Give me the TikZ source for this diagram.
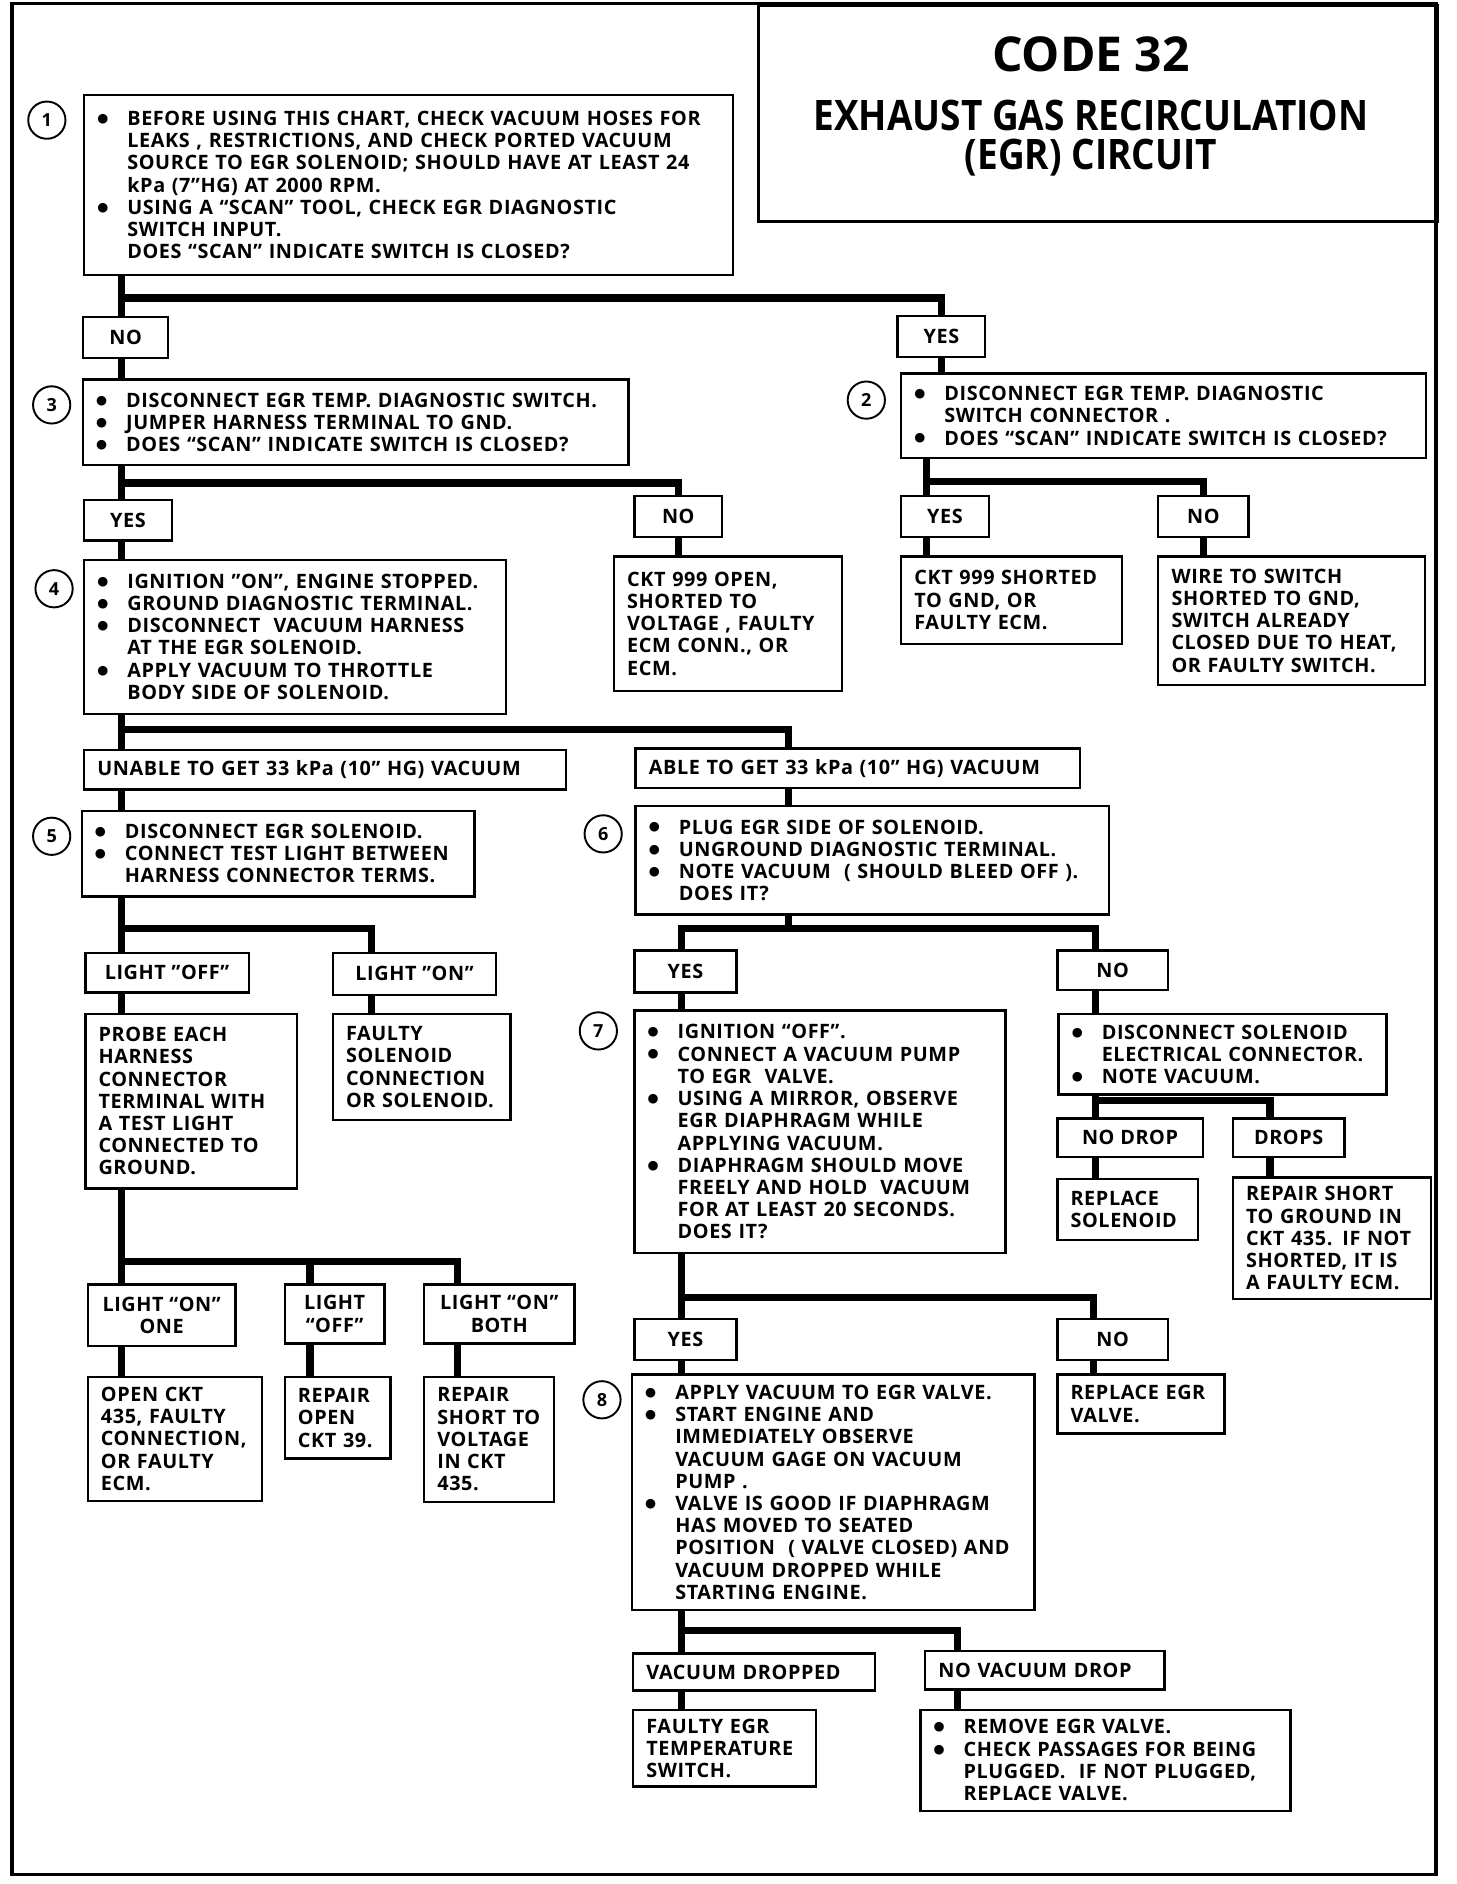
\documentclass[tikz,border=0pt]{standalone}
\usepackage{fontspec}
\setmainfont{Open Sans}[LetterSpace=3]
\newfontfamily\headfont{Open Sans}[FakeStretch=0.88]
\newfontfamily\codefont{Open Sans}
\newfontfamily\dotfont{DejaVu Sans}
\newcommand\bodyfont{\fontsize{16.5}{18.5}\selectfont\bfseries}
\newcommand\numfont{\fontsize{15}{15}\selectfont\bfseries}
\newcommand\bul{\makebox[25pt][l]{\raisebox{2.6pt}{\dotfont\fontsize{10.5}{10.5}\selectfont ●}}}
\newcommand\ind{\hspace*{25pt}}

\begin{document}
\begin{tikzpicture}[
		x=1pt, y=-1pt,
		box/.style={draw, line width=2pt, anchor=north west, align=left, inner xsep=11pt, inner ysep=0pt, font=\bodyfont},
		tag/.style={draw, line width=2pt, anchor=north west, align=center, inner sep=0pt, font=\bodyfont},
		wire/.style={line width=6pt},
		num/.style={draw, circle, line width=1.6pt, minimum size=31pt, inner sep=0pt, font=\numfont}
		]
		
		\useasboundingbox (0,0) rectangle (1212,1568);
		\draw[line width=3pt] (10,3) rectangle (1195,1560);
		
		% Title block
		\node[draw, line width=2.5pt, anchor=north west, minimum width=565pt, minimum height=180pt, inner sep=0pt] (titlebox) at (630,3) {};
		\node[font=\codefont\fontsize{40}{40}\selectfont\bfseries] (code) at (908,45) {CODE 32};
		\node[font=\headfont\fontsize{35}{32}\selectfont\bfseries, align=center] (name) at (908,115) {EXHAUST GAS RECIRCULATION\\(EGR) CIRCUIT};
		
		% Step 1
		\node[num] (n1) at (39,100) {1};
		\node[box, text width=518pt, minimum height=150pt] (b1) at (69,78) {
			\bul BEFORE USING THIS CHART, CHECK VACUUM HOSES FOR\\
			\ind LEAKS , RESTRICTIONS, AND CHECK PORTED VACUUM\\
			\ind SOURCE TO EGR SOLENOID; SHOULD HAVE AT LEAST 24\\
			\ind kPa (7”HG) AT 2000 RPM.\\
			\bul USING A “SCAN” TOOL, CHECK EGR DIAGNOSTIC\\
			\ind SWITCH INPUT.\\
			\ind DOES “SCAN” INDICATE SWITCH IS CLOSED?};
		\node[tag, minimum width=71pt, minimum height=34pt] (no1) at (68,263) {NO};
		\node[tag, minimum width=73pt, minimum height=34pt] (yes1) at (746,262) {YES};
		
		% Step 3 (left) and step 2 (right)
		\node[num] (n3) at (43,337) {3};
		\node[box, text width=432pt, minimum height=71pt] (b3) at (68,315) {
			\bul DISCONNECT EGR TEMP. DIAGNOSTIC SWITCH.\\
			\bul JUMPER HARNESS TERMINAL TO GND.\\
			\bul DOES “SCAN” INDICATE SWITCH IS CLOSED?};
		\node[num] (n2) at (721,333) {2};
		\node[box, text width=415pt, minimum height=70pt] (b2) at (749,310) {
			\bul DISCONNECT EGR TEMP. DIAGNOSTIC\\
			\ind SWITCH CONNECTOR .\\
			\bul DOES “SCAN” INDICATE SWITCH IS CLOSED?};
		\node[tag, minimum width=73pt, minimum height=34pt] (yes3) at (69,415) {YES};
		\node[tag, minimum width=73pt, minimum height=34pt] (no3) at (527,412) {NO};
		\node[tag, minimum width=73pt, minimum height=34pt] (yes2) at (749,412) {YES};
		\node[tag, minimum width=75pt, minimum height=34pt] (no2) at (963,412) {NO};
		
		\node[num] (n4) at (45,490) {4};
		\node[box, text width=329pt, minimum height=128pt] (b4) at (69,465) {
			\bul IGNITION "ON", ENGINE STOPPED.\\
			\bul GROUND DIAGNOSTIC TERMINAL.\\
			\bul DISCONNECT \ VACUUM HARNESS\\
			\ind AT THE EGR SOLENOID.\\
			\bul APPLY VACUUM TO THROTTLE\\
			\ind BODY SIDE OF SOLENOID.};
		\node[box, text width=168pt, minimum height=112pt] (r3no) at (510,462) {
			CKT 999 OPEN,\\ SHORTED TO\\ VOLTAGE , FAULTY\\ ECM CONN., OR\\ ECM.};
		\node[box, text width=162pt, minimum height=73pt] (r2yes) at (749,462) {
			CKT 999 SHORTED\\ TO GND, OR\\ FAULTY ECM.};
		\node[box, text width=200pt, minimum height=107pt] (r2no) at (963,462) {
			WIRE TO SWITCH\\ SHORTED TO GND,\\ SWITCH ALREADY\\ CLOSED DUE TO HEAT,\\ OR FAULTY SWITCH.};
		
		% Step 4 outcomes
		\node[box, text width=379pt, minimum height=33pt] (unable) at (69,623) {UNABLE TO GET 33 kPa (10” HG) VACUUM};
		\node[box, text width=348pt, minimum height=33pt] (able) at (528,622) {ABLE TO GET 33 kPa (10” HG) VACUUM};
		
		% Step 5
		\node[num] (n5) at (43,696) {5};
		\node[box, text width=305pt, minimum height=71pt] (b5) at (67,674) {
			\bul DISCONNECT EGR SOLENOID.\\
			\bul CONNECT TEST LIGHT BETWEEN\\
			\ind HARNESS CONNECTOR TERMS.};
		\node[tag, minimum width=136pt, minimum height=33pt] (loff) at (70,792) {LIGHT "OFF"};
		\node[tag, minimum width=136pt, minimum height=35pt] (lon) at (276,792) {LIGHT "ON"};
		\node[box, text width=154pt, minimum height=145pt] (probe) at (70,843) {
			PROBE EACH\\ HARNESS\\ CONNECTOR\\ TERMINAL WITH\\ A TEST LIGHT\\ CONNECTED TO\\ GROUND.};
		\node[box, text width=126pt, minimum height=88pt] (faulty) at (276,843) {
			FAULTY\\ SOLENOID\\ CONNECTION\\ OR SOLENOID.};
		\node[tag, minimum width=123pt, minimum height=51pt] (lon1) at (72,1068) {LIGHT “ON”\\ONE};
		\node[tag, minimum width=83pt, minimum height=49pt] (loff2) at (236,1068) {LIGHT\\“OFF”};
		\node[tag, minimum width=125pt, minimum height=49pt] (lonb) at (352,1068) {LIGHT “ON”\\BOTH};
		\node[box, text width=123pt, minimum height=103pt] (ropen) at (72,1145) {
			OPEN CKT\\ 435, FAULTY\\ CONNECTION,\\ OR FAULTY\\ ECM.};
		\node[box, text width=66pt, minimum height=68pt] (rrep) at (236,1145) {
			REPAIR\\ OPEN\\ CKT 39.};
		\node[box, text width=86pt, minimum height=104pt] (rshort) at (352,1145) {
			REPAIR\\ SHORT TO\\ VOLTAGE\\ IN CKT\\ 435.};
		
		% Step 6
		\node[num] (n6) at (502,694) {6};
		\node[box, text width=372pt, minimum height=90pt] (b6) at (528,670) {
			\bul PLUG EGR SIDE OF SOLENOID.\\
			\bul UNGROUND DIAGNOSTIC TERMINAL.\\
			\bul NOTE VACUUM \ ( SHOULD BLEED OFF ).\\
			\ind DOES IT?};
		\node[tag, minimum width=85pt, minimum height=35pt] (yes6) at (527,790) {YES};
		\node[tag, minimum width=92pt, minimum height=33pt] (no6) at (879,790) {NO};
		
		% Step 7
		\node[num] (n7) at (498,858) {7};
		\node[box, text width=287pt, minimum height=202pt] (b7) at (527,840) {
			\bul IGNITION “OFF”.\\
			\bul CONNECT A VACUUM PUMP\\
			\ind TO EGR \ VALVE.\\
			\bul USING A MIRROR, OBSERVE\\
			\ind EGR DIAPHRAGM WHILE\\
			\ind APPLYING VACUUM.\\
			\bul DIAPHRAGM SHOULD MOVE\\
			\ind FREELY AND HOLD \ VACUUM\\
			\ind FOR AT LEAST 20 SECONDS.\\
			\ind DOES IT?};
		\node[box, text width=251pt, minimum height=67pt] (nosol) at (880,843) {
			\bul DISCONNECT SOLENOID\\
			\ind ELECTRICAL CONNECTOR.\\
			\bul NOTE VACUUM.};
		\node[tag, minimum width=121pt, minimum height=32pt] (nodrop) at (879,930) {NO DROP};
		\node[tag, minimum width=93pt, minimum height=32pt] (drops) at (1025,930) {DROPS};
		\node[box, text width=95pt, minimum height=51pt] (repsol) at (879,980) {
			REPLACE\\ SOLENOID};
		\node[box, text width=143pt, minimum height=101pt] (repshort) at (1025,979) {
			REPAIR SHORT\\ TO GROUND IN\\ CKT 435. IF NOT\\ SHORTED, IT IS\\ A FAULTY ECM.};
		\node[tag, minimum width=85pt, minimum height=34pt] (yes7) at (527,1097) {YES};
		\node[tag, minimum width=92pt, minimum height=34pt] (no7) at (879,1097) {NO};
		
		% Step 8
		\node[num] (n8) at (501,1165) {8};
		\node[box, text width=313pt, minimum height=196pt] (b8) at (525,1143) {
			\bul APPLY VACUUM TO EGR VALVE.\\
			\bul START ENGINE AND\\
			\ind IMMEDIATELY OBSERVE\\
			\ind VACUUM GAGE ON VACUUM\\
			\ind PUMP .\\
			\bul VALVE IS GOOD IF DIAPHRAGM\\
			\ind HAS MOVED TO SEATED\\
			\ind POSITION \ ( VALVE CLOSED) AND\\
			\ind VACUUM DROPPED WHILE\\
			\ind STARTING ENGINE.};
		\node[box, text width=117pt, minimum height=49pt] (repegr) at (879,1143) {
			REPLACE EGR\\ VALVE.};
		\node[box, text width=179pt, minimum height=31pt] (vacdrop) at (526,1375) {VACUUM DROPPED};
		\node[box, text width=177pt, minimum height=32pt] (novac) at (769,1373) {NO VACUUM DROP};
		\node[box, text width=130pt, minimum height=64pt] (faultyegr) at (526,1422) {
			FAULTY EGR\\ TEMPERATURE\\ SWITCH.};
		\node[box, text width=286pt, minimum height=84pt] (remove) at (765,1422) {
			\bul REMOVE EGR VALVE.\\
			\bul CHECK PASSAGES FOR BEING\\
			\ind PLUGGED. \ IF NOT PLUGGED,\\
			\ind REPLACE VALVE.};
		
		% Branch points
		\coordinate (j1) at (101,248);
		\coordinate (j3) at (101,402);
		\coordinate (j2) at (771,401);
		\coordinate (j4) at (101,607);
		\coordinate (k4) at (656,607);
		\coordinate (j5) at (101,773);
		\coordinate (k5) at (309,773);
		\coordinate (j6) at (101,1050);
		\coordinate (k6) at (258,1050);
		\coordinate (m6) at (381,1050);
		\coordinate (j7) at (567,773);
		\coordinate (k7) at (912,773);
		\coordinate (j8) at (912,916);
		\coordinate (k8) at (1057,916);
		\coordinate (j9) at (567,1080);
		\coordinate (k9) at (910,1080);
		\coordinate (j10) at (567,1357);
		\coordinate (k10) at (797,1357);
		
		% Connectors
		\draw[wire] (b1.south -| j1) -- (no1.north -| j1);
		\draw[wire] (j1) -| (yes1.north);
		\draw[wire] (no1.south -| j1) -- (b3.north -| j1);
		\draw[wire] (yes1.south) -- (b2.north -| yes1.south);
		
		\draw[wire] (b3.south -| j3) -- (yes3.north -| j3);
		\draw[wire] (j3) -| (no3.north);
		\draw[wire] (yes3.south -| j3) -- (b4.north -| j3);
		\draw[wire] (no3.south) -- (r3no.north -| no3.south);
		
		\draw[wire] (b2.south -| j2) -- (yes2.north -| j2);
		\draw[wire] (j2) -| (no2.north);
		\draw[wire] (yes2.south -| j2) -- (r2yes.north -| j2);
		\draw[wire] (no2.south) -- (r2no.north -| no2.south);
		
		\draw[wire] (b4.south -| j4) -- (unable.north -| j4);
		\draw[wire] (j4) -| (able.north -| k4);
		\draw[wire] (unable.south -| j4) -- (b5.north -| j4);
		\draw[wire] (able.south -| k4) -- (b6.north -| k4);
		
		\draw[wire] (b5.south -| j5) -- (loff.north -| j5);
		\draw[wire] (j5) -| (lon.north -| k5);
		\draw[wire] (loff.south -| j5) -- (probe.north -| j5);
		\draw[wire] (lon.south -| k5) -- (faulty.north -| k5);
		
		\draw[wire] (probe.south -| j6) -- (lon1.north -| j6);
		\draw[wire] (j6) -| (lonb.north -| m6);
		\draw[wire] (k6) -- (loff2.north -| k6);
		\draw[wire] (lon1.south -| j6) -- (ropen.north -| j6);
		\draw[wire] (loff2.south -| k6) -- (rrep.north -| k6);
		\draw[wire] (lonb.south -| m6) -- (rshort.north -| m6);
		
		\draw[wire] (b6.south -| k4) -- (j7 -| k4);
		\draw[wire] (yes6.north -| j7) -- (j7) -- (k7) -- (no6.north -| k7);
		\draw[wire] (yes6.south -| j7) -- (b7.north -| j7);
		\draw[wire] (no6.south -| k7) -- (nosol.north -| k7);
		
		\draw[wire] (nosol.south -| j8) -- (nodrop.north -| j8);
		\draw[wire] (j8) -| (drops.north -| k8);
		\draw[wire] (nodrop.south -| j8) -- (repsol.north -| j8);
		\draw[wire] (drops.south -| k8) -- (repshort.north -| k8);
		
		\draw[wire] (b7.south -| j9) -- (yes7.north -| j9);
		\draw[wire] (j9) -| (no7.north -| k9);
		\draw[wire] (yes7.south -| j9) -- (b8.north -| j9);
		\draw[wire] (no7.south -| k9) -- (repegr.north -| k9);
		
		\draw[wire] (b8.south -| j10) -- (vacdrop.north -| j10);
		\draw[wire] (j10) -| (novac.north -| k10);
		\draw[wire] (vacdrop.south -| j10) -- (faultyegr.north -| j10);
		\draw[wire] (novac.south -| k10) -- (remove.north -| k10);
		
	\end{tikzpicture}
\end{document}
